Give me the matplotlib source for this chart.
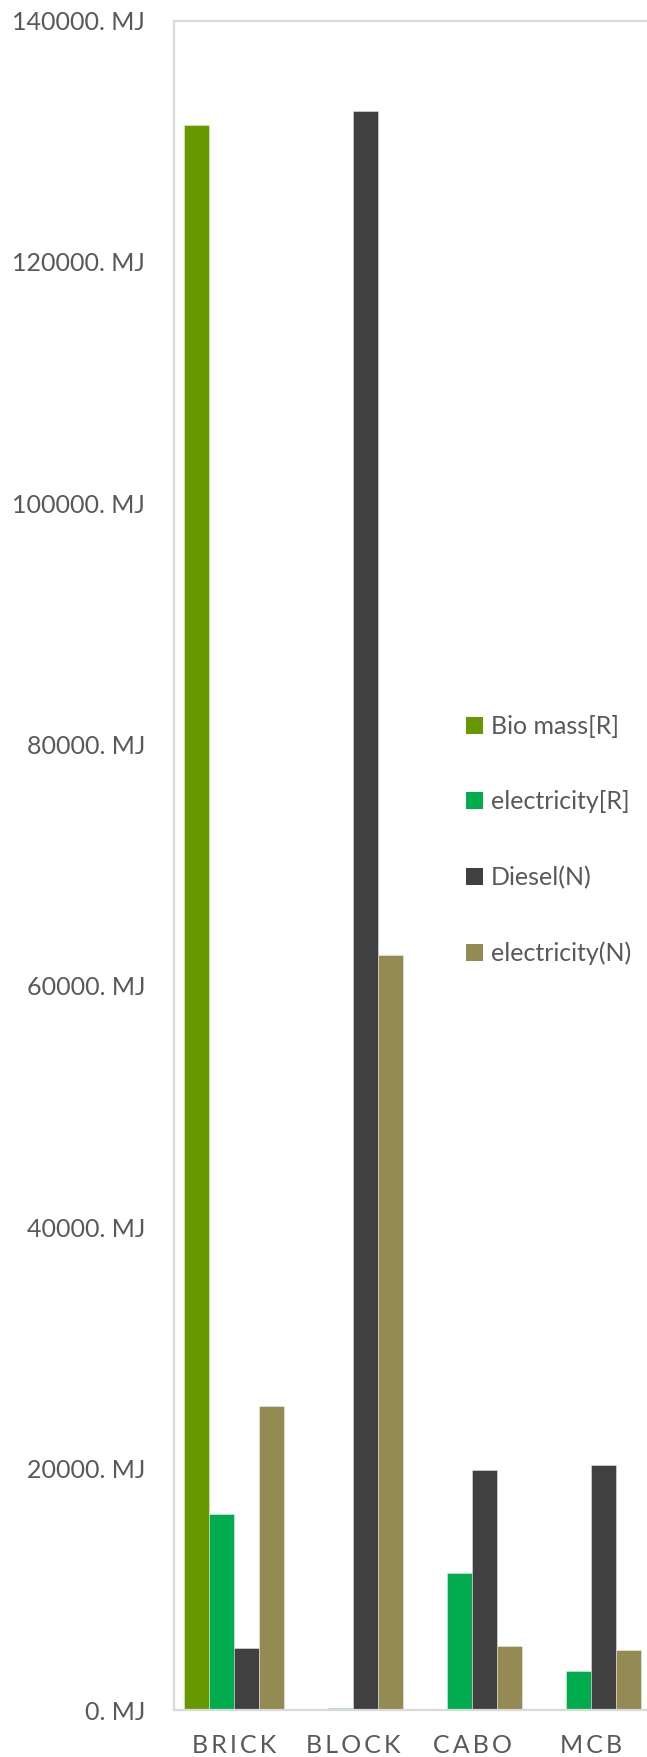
import matplotlib
matplotlib.use("Agg")
import matplotlib.pyplot as plt
import numpy as np
from matplotlib.ticker import FuncFormatter, MultipleLocator

plt.rcParams['font.family'] = ['Lato', 'DejaVu Sans']

# Energy use per product (MJ)
categories = ["BRICK", "BLOCK", "CABO", "MCB"]
series_names = ["Bio mass[R]", "electricity[R]", "Diesel(N)", "electricity(N)"]
biomass_r = [131350, 0, 0, 0]
electricity_r = [16240, 160, 11330, 3230]
diesel_n = [5110, 132500, 19860, 20300]
electricity_n = [25170, 62570, 5300, 5000]
colors = ["#669900", "#00AC4E", "#404040", "#948A54"]

W, H = 647, 1757
fig = plt.figure(figsize=(W / 100, H / 100), dpi=100)
left_px, right_px = 174.4, 651.0
top_px, zero_px = 20.5, 1710.0
ax = fig.add_axes([left_px / W, 1 - zero_px / H,
                   (right_px - left_px) / W, (zero_px - top_px) / H])

x = np.arange(len(categories))
width = 0.21
all_series = [biomass_r, electricity_r, diesel_n, electricity_n]
for i, (vals, name, col) in enumerate(zip(all_series, series_names, colors)):
    ax.bar(x + (i - 1.5) * width, vals, width, color=col, label=name,
           edgecolor=(1, 1, 1, 0.45), linewidth=0.6)

ax.set_xlim(-0.5, len(categories) - 0.5)
ax.set_ylim(0, 140000)
ax.yaxis.set_major_locator(MultipleLocator(20000))
ax.yaxis.set_major_formatter(FuncFormatter(lambda v, p: f"{v:.0f}. MJ"))
ax.set_xticks(x)
ax.set_xticklabels(["\u2009".join(c) for c in categories])

text_col = "#595959"
ax.tick_params(axis='y', length=0, pad=21, labelsize=18, labelcolor=text_col)
ax.tick_params(axis='x', length=0, pad=17, labelsize=18, labelcolor=text_col)

for side in ["left", "top", "bottom", "right"]:
    ax.spines[side].set_color("#d9d9d9")
    ax.spines[side].set_linewidth(1.6)

leg = fig.legend(loc='center left', bbox_to_anchor=(466 / W, 1 - 840 / H),
                 frameon=False, fontsize=18, labelcolor=text_col,
                 handlelength=0.67, handleheight=0.67, handletextpad=0.33,
                 labelspacing=2.1, borderpad=0, borderaxespad=0)
for h in leg.legend_handles:
    h.set_edgecolor('none')

fig.savefig("out.png", dpi=100)
